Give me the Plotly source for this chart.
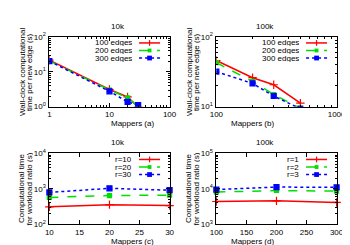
import plotly.graph_objects as go

# ---- data ----
a_mappers = [1, 10, 20, 30]
a_100 = [21.5, 3.1, 1.9, 0.97]
a_200 = [20.5, 3.0, 1.8, 1.02]
a_300 = [20.2, 2.75, 1.37, 1.11]

b_mappers = [100, 200, 300, 500]
b_100 = [45.9, 26.0, 20.6, 11.2]
b_200 = [42.7, 23.0, 14.9, 9.5]
b_300 = [31.8, 21.5, 14.2, 9.3]

c_mappers = [10, 20, 30]
c_r10 = [308, 356, 334]
c_r20 = [570, 644, 658]
c_r30 = [790, 1030, 912]

d_mappers = [100, 200, 300]
d_r1 = [4365, 4550, 4100]
d_r2 = [8070, 8930, 8580]
d_r3 = [9500, 11200, 10970]

top_names = ["100 edges", "200 edges", "300 edges"]
c_names = ["r=10", "r=20", "r=30"]
d_names = ["r=1", "r=2", "r=3"]
panel_titles = ["10k", "100k", "10k", "100k"]
x_titles = ["Mappers (a)", "Mappers (b)", "Mappers (c)", "Mappers (d)"]
y_titles = [["Wall-clock computational", "time per new edge (s)"],
            ["Wall-clock computational", "time per new edge (s)"],
            ["Computational time", "for workload ratio (s)"],
            ["Computational time", "for workload ratio (s)"]]

RED, GREEN, BLUE = "#ff0000", "#00e000", "#0000ff"
styles = [
    dict(color=RED, dash="solid", symbol="cross-thin", size=6),
    dict(color=GREEN, dash="dash", symbol="square", size=4),
    dict(color=BLUE, dash="dot", symbol="square", size=5),
]

W, H = 350, 245
def px(x):
    return x / W
def py(y):
    return 1 - y / H

panels = [
    dict(ax="x", ay="y", x0=36, x1=162, y0=24, y1=97, yt=(7.5, 15)),
    dict(ax="x2", ay="y2", x0=211, x1=337, y0=24, y1=97, yt=(7.5, 15)),
    dict(ax="x3", ay="y3", x0=36, x1=162, y0=146, y1=220, yt=(6.5, 14.5)),
    dict(ax="x4", ay="y4", x0=211, x1=337, y0=146, y1=220, yt=(6.5, 14.5)),
]

fig = go.Figure()
FONT = "Liberation Sans, Arial, sans-serif"

def add_series(xs, ys_list, xa, ya, clip=True):
    for ys, st in zip(ys_list, styles):
        fig.add_trace(go.Scatter(
            x=xs, y=ys, xaxis=xa, yaxis=ya, mode="lines+markers",
            line=dict(color=st["color"], dash=st["dash"], width=1.5),
            marker=dict(symbol=st["symbol"], size=st["size"], color=st["color"],
                        line=dict(color=st["color"], width=1.2)),
            cliponaxis=clip, showlegend=False))

add_series(a_mappers, [a_100, a_200, a_300], "x", "y")
add_series(b_mappers, [b_100, b_200, b_300], "x2", "y2")
add_series(c_mappers, [c_r10, c_r20, c_r30], "x3", "y3", clip=False)
add_series(d_mappers, [d_r1, d_r2, d_r3], "x4", "y4", clip=False)

def minor_vals(lo, hi):
    vals = []
    for e in range(lo, hi):
        for m in range(2, 10):
            vals.append(m * 10 ** e)
    return vals

def sup(e):
    return "10<sup>%d</sup>" % e

common = dict(showline=True, linecolor="black", linewidth=1, mirror="allticks",
              ticks="inside", ticklen=4, tickcolor="black", showgrid=False,
              zeroline=False, tickfont=dict(size=8, family=FONT, color="black"))

def log_axis(lo, hi, labels_sup=True):
    tv = [10 ** e for e in range(lo, hi + 1)]
    tt = [sup(e) for e in range(lo, hi + 1)] if labels_sup else [str(v) for v in tv]
    return dict(type="log", range=[lo, hi], tickmode="array", tickvals=tv, ticktext=tt,
                minor=dict(tickmode="array", tickvals=minor_vals(lo, hi), ticks="inside",
                           ticklen=2, tickcolor="black"))

lay = dict(width=W, height=H, margin=dict(l=0, r=0, t=0, b=0),
           paper_bgcolor="white", plot_bgcolor="white",
           font=dict(family=FONT, size=8, color="black"))

xdefs = [
    log_axis(0, 2, labels_sup=False),
    log_axis(2, 3, labels_sup=False),
    dict(type="linear", range=[10, 30], tickvals=[10, 15, 20, 25, 30]),
    dict(type="linear", range=[100, 300], tickvals=[100, 150, 200, 250, 300]),
]
ydefs = [log_axis(0, 2), log_axis(1, 2), log_axis(2, 4), log_axis(3, 5)]

for i, p in enumerate(panels):
    xk = "xaxis" if i == 0 else "xaxis%d" % (i + 1)
    yk = "yaxis" if i == 0 else "yaxis%d" % (i + 1)
    lay[xk] = dict(common) | xdefs[i] | dict(domain=[px(p["x0"]), px(p["x1"])],
                                             anchor=p["ay"])
    lay[yk] = dict(common) | ydefs[i] | dict(domain=[py(p["y1"]), py(p["y0"])],
                                             anchor=p["ax"], ticklabelstandoff=1)

fig.update_layout(**lay)

def ann(text, x, y, **kw):
    fig.add_annotation(text=text, xref="paper", yref="paper", x=px(x), y=py(y),
                       showarrow=False, font=dict(size=8, family=FONT, color="black"), **kw)

for i, p in enumerate(panels):
    cx = (p["x0"] + p["x1"]) / 2
    cy = (p["y0"] + p["y1"]) / 2
    ann(panel_titles[i], cx, p["y0"] - 11, yanchor="middle")
    ann(x_titles[i], cx, p["y1"] + 18, yanchor="middle", height=9)
    for line, off in zip(y_titles[i], p["yt"]):
        ann(line, off + (p["x0"] - 36), cy, textangle=-90, xanchor="center",
            yanchor="middle", height=8)

# manual legends (text left, sample right)
legend_sets = [top_names, top_names, c_names, d_names]
for p, names in zip(panels, legend_sets):
    tx = p["x0"] + 89
    lx0, lx1 = p["x0"] + 94, p["x0"] + 116
    for k, (nm, st) in enumerate(zip(names, styles)):
        yy = p["y0"] + 6.3 + k * 7.9
        ann(nm, tx, yy, xanchor="right", yanchor="middle", height=7)
        fig.add_shape(type="line", xref="paper", yref="paper",
                      x0=px(lx0), x1=px(lx1), y0=py(yy), y1=py(yy),
                      line=dict(color=st["color"], dash=st["dash"], width=1.5))
        cxm = (lx0 + lx1) / 2
        if st["symbol"] == "square":
            h = st["size"] / 2
            fig.add_shape(type="rect", xref="paper", yref="paper",
                          x0=px(cxm - h), x1=px(cxm + h), y0=py(yy + h), y1=py(yy - h),
                          fillcolor=st["color"], line=dict(width=0))
        else:
            fig.add_shape(type="line", xref="paper", yref="paper",
                          x0=px(cxm), x1=px(cxm), y0=py(yy - 3), y1=py(yy + 3),
                          line=dict(color=st["color"], width=1.2))

fig.write_html("out.html")
